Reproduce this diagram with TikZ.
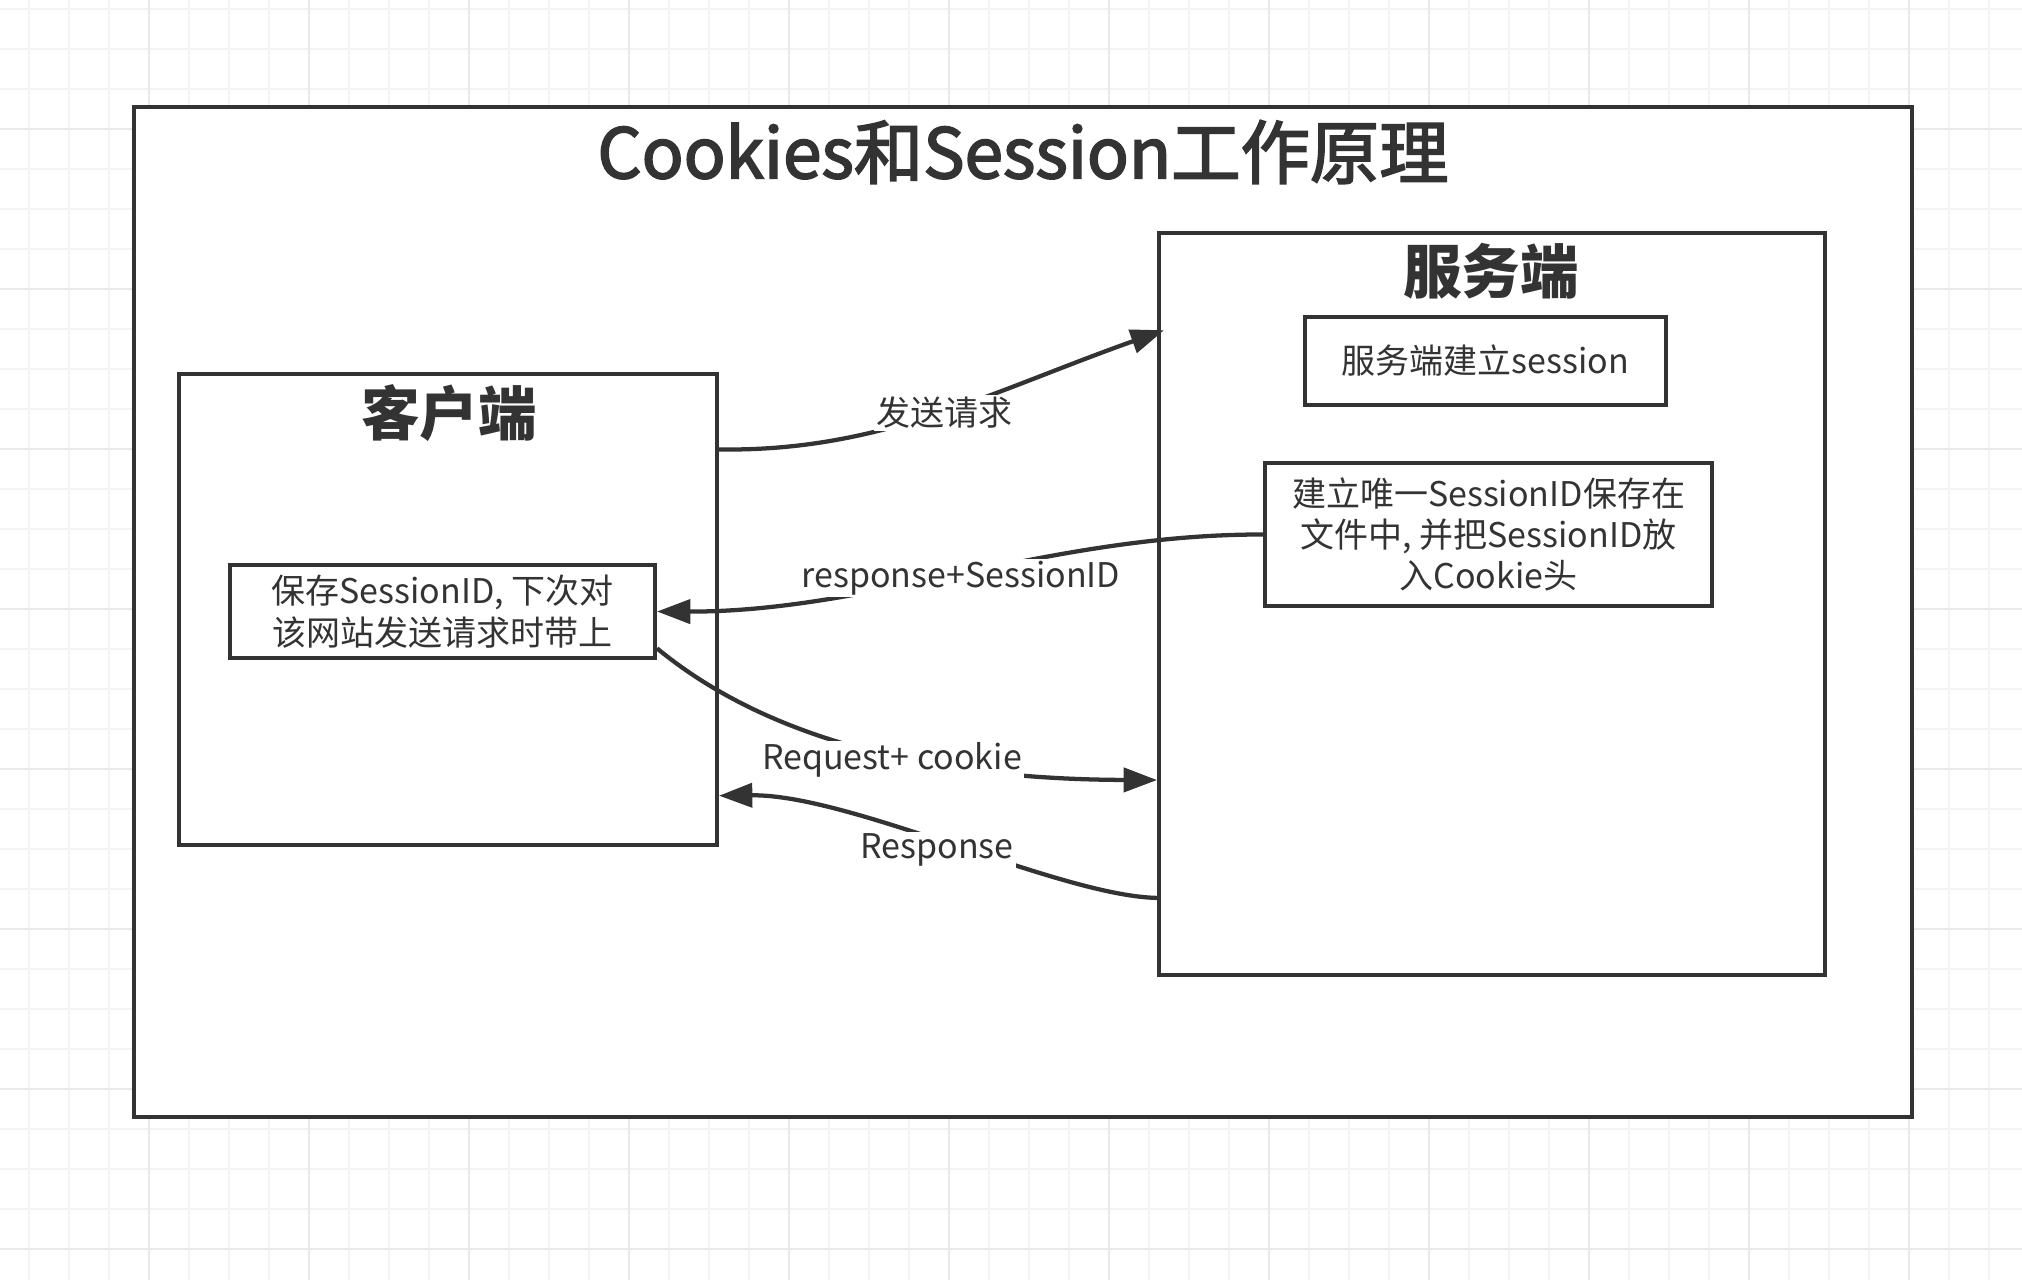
\documentclass[tikz,border=0pt]{standalone}
\usepackage{fontspec}
\setmainfont{Noto Sans CJK SC}
\newfontfamily\titlefont{Noto Sans CJK SC}[FakeBold=2.5]
\usetikzlibrary{arrows.meta,calc}
\definecolor{ink}{HTML}{333333}
\definecolor{gridminor}{HTML}{F3F3F3}
\definecolor{gridmajor}{HTML}{E9E9E9}
\tikzset{
  box/.style={draw=ink, line width=3pt, fill=white, inner sep=0pt, rectangle},
  txt/.style={text=ink, font=\fontsize{25.5}{31}\selectfont, align=center},
  heading/.style={text=ink, font=\fontsize{44}{50}\selectfont\bfseries, inner sep=0pt},
  lbl/.style={text=ink, font=\fontsize{25.5}{31}\selectfont, fill=white, inner sep=1.5pt},
  conn/.style={draw=ink, line width=3.2pt, -{Triangle[length=25pt, width=18pt]}},
}
\begin{document}
\begin{tikzpicture}[x=0.75pt, y=-0.75pt]
\useasboundingbox (0,0) rectangle (2022,1280);
\fill[white] (0,0) rectangle (2022,1280);
\foreach \x in {29,69,...,2022} \draw[gridminor, line width=1.1pt] (\x,0) -- (\x,1280);
\foreach \y in {9,49,...,1280} \draw[gridminor, line width=1.1pt] (0,\y) -- (2022,\y);
\foreach \x in {149,309,...,2022} \draw[gridmajor, line width=1.1pt] (\x,0) -- (\x,1280);
\foreach \y in {129,289,...,1280} \draw[gridmajor, line width=1.1pt] (0,\y) -- (2022,\y);

\node[box, minimum width=1333.5pt, minimum height=757.5pt] (outer) at (1023,612) {};
\node[text=ink, font=\fontsize{52}{58}\selectfont\titlefont, inner sep=0pt] (title) at (1023,152) {Cookies和Session工作原理};

\node[box, minimum width=403.5pt, minimum height=353.25pt] (client) at (448,609.5) {};
\node[heading] (clienttitle) at (449,413) {客户端};
\node[box, txt, minimum width=318.75pt, minimum height=69.75pt] (inner) at (442.5,611.5)
  {保存SessionID, 下次对\\该网站发送请求时带上};

\node[box, minimum width=499.5pt, minimum height=556.5pt] (server) at (1492,604) {};
\node[heading] (servertitle) at (1491,271) {服务端};
\node[box, txt, minimum width=270.75pt, minimum height=66pt] (box1) at (1485.5,361) {服务端建立session};
\node[box, txt, minimum width=335.25pt, minimum height=107.25pt] (box2) at (1488.5,534.5)
  {建立唯一SessionID保存在\\文件中, 并把SessionID放\\入Cookie头};

\draw[conn] ($(client.north east)!0.163!(client.south east)$) .. controls (880,452) and (990,392) .. ($(server.north west)!0.133!(server.south west)+(7,0)$);
\draw[conn] (box2.west) .. controls (1050,534) and (870,612) .. (inner.east);
\draw[conn] ($(inner.north east)!0.88!(inner.south east)$) .. controls (720,700) and (850,779) .. ($(server.north west)!0.736!(server.south west)$);
\draw[conn] ($(server.north west)!0.894!(server.south west)$) .. controls (1060,896) and (850,794) .. ($(client.north east)!0.892!(client.south east)$);

\node[lbl] (l1) at (944,413) {发送请求};
\node[lbl] (l2) at (961,578) {response+SessionID};
\node[lbl] (l3) at (892,760) {Request+ cookie};
\node[lbl] (l4) at (937,850) {Response};
\end{tikzpicture}
\end{document}
